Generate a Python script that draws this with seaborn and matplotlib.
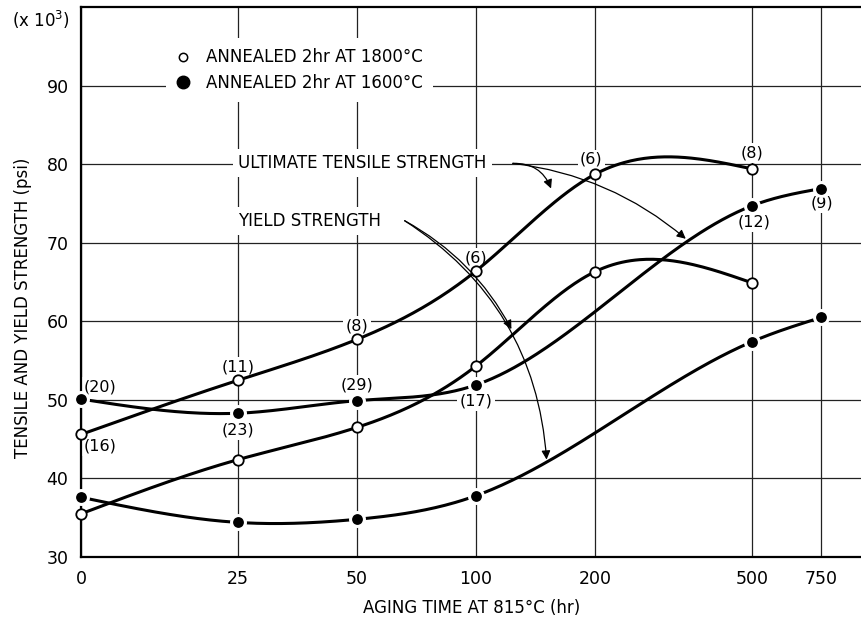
import numpy as np
import pandas as pd
import matplotlib
matplotlib.use("Agg")
import matplotlib.pyplot as plt
from matplotlib.lines import Line2D
from matplotlib.ticker import FixedLocator, NullLocator
import seaborn as sns

# Aging time (hr) and strengths (x 10^3 psi)
hours_1800 = [0, 25, 50, 100, 200, 500]
uts_1800 = [45.6, 52.5, 57.7, 66.4, 78.7, 79.4]
ys_1800 = [35.5, 42.4, 46.5, 54.3, 66.3, 64.9]

hours_1600 = [0, 25, 50, 100, 500, 750]
uts_1600 = [50.1, 48.3, 49.9, 51.9, 74.7, 76.9]
ys_1600 = [37.6, 34.4, 34.8, 37.8, 57.4, 60.5]

x_ticks = [0, 25, 50, 100, 200, 500, 750]
x_tick_labels = ["0", "25", "50", "100", "200", "500", "750"]
y_ticks = [30, 40, 50, 60, 70, 80, 90]

# number of specimens per point
counts_uts_1800 = {0: "(16)", 25: "(11)", 50: "(8)", 100: "(6)", 200: "(6)", 500: "(8)"}
counts_uts_1600 = {0: "(20)", 25: "(23)", 50: "(29)", 100: "(17)", 500: "(12)", 750: "(9)"}

label_1800 = "ANNEALED 2hr AT 1800°C"
label_1600 = "ANNEALED 2hr AT 1600°C"

# Time axis: logarithmic from 25 hr, with the 0 hr point placed one log-span to the left
L10, L25 = np.log10(10.0), np.log10(25.0)


def fwd(x):
    x = np.asarray(x, dtype=float)
    return np.where(x >= 25, np.log10(np.maximum(x, 1e-9)), L10 + (L25 - L10) * x / 25.0)


def inv(p):
    p = np.asarray(p, dtype=float)
    return np.where(p >= L25, 10.0 ** np.minimum(p, 10), (p - L10) / (L25 - L10) * 25.0)


def smooth_curve(xs, ys, n=300):
    """Natural cubic spline through the points, evaluated in axis position space."""
    px = fwd(xs)
    y = np.asarray(ys, dtype=float)
    k = len(px)
    h = np.diff(px)
    A = np.zeros((k, k))
    b = np.zeros(k)
    A[0, 0] = A[-1, -1] = 1.0
    for i in range(1, k - 1):
        A[i, i - 1] = h[i - 1]
        A[i, i] = 2 * (h[i - 1] + h[i])
        A[i, i + 1] = h[i]
        b[i] = 3 * ((y[i + 1] - y[i]) / h[i] - (y[i] - y[i - 1]) / h[i - 1])
    c = np.linalg.solve(A, b)
    bb = (y[1:] - y[:-1]) / h - h * (2 * c[:-1] + c[1:]) / 3
    d = (c[1:] - c[:-1]) / (3 * h)
    pp = np.linspace(px[0], px[-1], n)
    idx = np.clip(np.searchsorted(px, pp, side="right") - 1, 0, k - 2)
    t = pp - px[idx]
    yy = y[idx] + bb[idx] * t + c[idx] * t ** 2 + d[idx] * t ** 3
    return inv(pp), yy


curves = []
for name, xs, ys in [("uts1800", hours_1800, uts_1800), ("ys1800", hours_1800, ys_1800),
                     ("uts1600", hours_1600, uts_1600), ("ys1600", hours_1600, ys_1600)]:
    cx, cy = smooth_curve(xs, ys)
    curves.append(pd.DataFrame({"hours": cx, "strength": cy, "curve": name}))
curve_df = pd.concat(curves, ignore_index=True)

pts_1800 = pd.DataFrame({"hours": hours_1800 * 2, "strength": uts_1800 + ys_1800})
pts_1600 = pd.DataFrame({"hours": hours_1600 * 2, "strength": uts_1600 + ys_1600})

sns.set_theme(style="white")
plt.rcParams["font.family"] = ["DejaVu Sans"]
plt.rcParams["text.color"] = "black"
plt.rcParams["axes.labelcolor"] = "black"
plt.rcParams["xtick.color"] = "black"
plt.rcParams["ytick.color"] = "black"

fig = plt.figure(figsize=(8.62, 6.2), dpi=100)
ax = fig.add_axes([0.094, 0.1016, 0.906, 0.8871])
ax.set_xscale("function", functions=(fwd, inv))
ax.set_xlim(0, 950)
ax.set_ylim(30, 100)

ax.set_axisbelow(True)
ax.grid(True, color="#222222", linewidth=0.9)

sns.lineplot(data=curve_df, x="hours", y="strength", units="curve", estimator=None,
             sort=False, color="black", linewidth=2.2, ax=ax, legend=False, zorder=3)

ax.plot(pts_1600["hours"], pts_1600["strength"], linestyle="none", marker="o",
        markersize=10, markerfacecolor="black", markeredgecolor="white",
        markeredgewidth=2.2, clip_on=False, zorder=4)
ax.plot(pts_1800["hours"], pts_1800["strength"], linestyle="none", marker="o",
        markersize=7.5, markerfacecolor="white", markeredgecolor="black",
        markeredgewidth=1.3, clip_on=False, zorder=5)

ax.xaxis.set_major_locator(FixedLocator(x_ticks))
ax.xaxis.set_minor_locator(NullLocator())
ax.set_xticklabels(x_tick_labels)
ax.set_yticks(y_ticks)
ax.tick_params(axis="both", length=0, labelsize=12.5, colors="black")
ax.tick_params(axis="x", pad=9)
ax.tick_params(axis="y", pad=9)

for side in ["left", "bottom", "top"]:
    ax.spines[side].set_color("black")
    ax.spines[side].set_linewidth(1.6)
ax.spines["right"].set_visible(False)

ax.set_xlabel("AGING TIME AT 815°C (hr)", fontsize=12, labelpad=8)
ax.set_ylabel("TENSILE AND YIELD STRENGTH (psi)", fontsize=12)
ax.yaxis.set_label_coords(-0.063, 0.453)
fig.text(0.014, 0.968, "(x 10$^3$)", fontsize=12, ha="left", va="center")

# specimen counts
box = dict(boxstyle="square,pad=0.15", facecolor="white", edgecolor="none")
count_pos = [
    (3.0, 51.7, counts_uts_1600[0]), (3.0, 44.1, counts_uts_1800[0]),
    (25, 54.2, counts_uts_1800[25]), (25, 46.2, counts_uts_1600[25]),
    (50, 59.4, counts_uts_1800[50]), (50, 51.9, counts_uts_1600[50]),
    (100, 68.1, counts_uts_1800[100]), (100, 49.9, counts_uts_1600[100]),
    (196, 80.6, counts_uts_1800[200]), (500, 81.4, counts_uts_1800[500]),
    (505, 72.6, counts_uts_1600[500]), (750, 75.1, counts_uts_1600[750]),
]
for x, y, s in count_pos:
    ax.text(x, y, s, fontsize=11.5, ha="center", va="center", bbox=box, zorder=2)

# curve labels with leader arrows
lbl_box = dict(boxstyle="square,pad=0.3", facecolor="white", edgecolor="none")
ax.text(25, 80.1, "ULTIMATE TENSILE STRENGTH", fontsize=12, ha="left", va="center",
        bbox=lbl_box, zorder=2)
ax.text(25, 72.8, "YIELD STRENGTH", fontsize=12, ha="left", va="center",
        bbox=lbl_box, zorder=2)

arrow_kw = dict(arrowstyle="-|>", color="black", lw=0.9, mutation_scale=13,
                shrinkA=0, shrinkB=0)
for tail, head, rad in [((124, 80.1), (155, 76.9), -0.35),
                        ((124, 80.1), (340, 70.5), -0.15),
                        ((66, 72.8), (123, 59.0), -0.15),
                        ((66, 72.8), (151, 42.4), -0.25)]:
    ax.annotate("", xy=head, xytext=tail,
                arrowprops=dict(connectionstyle=f"arc3,rad={rad}", **arrow_kw), zorder=6)

handles = [
    Line2D([], [], linestyle="none", marker="o", markersize=6, markerfacecolor="white",
           markeredgecolor="black", markeredgewidth=1.1, label=label_1800),
    Line2D([], [], linestyle="none", marker="o", markersize=9, markerfacecolor="black",
           markeredgecolor="black", label=label_1600),
]
leg = ax.legend(handles=handles, loc="upper left", bbox_to_anchor=(0.098, 0.958),
                fontsize=12, frameon=True, facecolor="white", edgecolor="none",
                framealpha=1, fancybox=False, handlelength=0.9, handletextpad=0.9,
                labelspacing=0.45, borderpad=0.6)

fig.savefig("out.png", dpi=100, facecolor="white")
